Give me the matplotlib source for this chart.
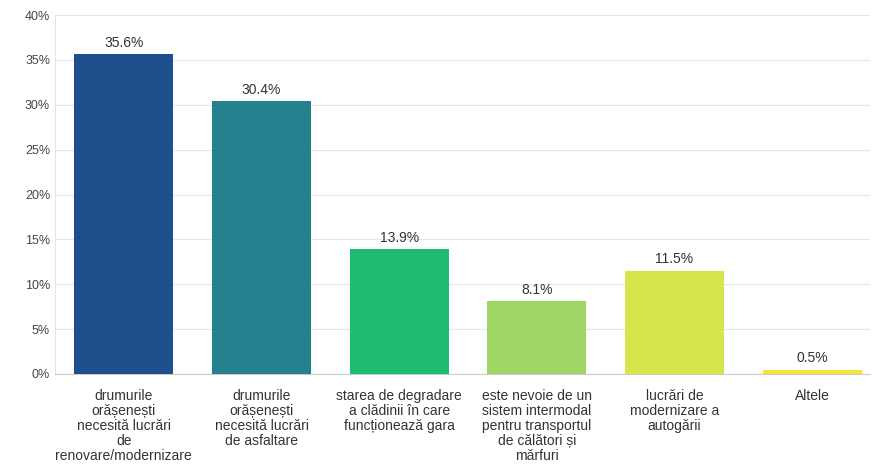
import matplotlib.pyplot as plt
import matplotlib as mpl

mpl.rcParams['font.family'] = ['Liberation Sans', 'DejaVu Sans']

categories = [
    "drumurile\norășenești\nnecesită lucrări\nde\nrenovare/modernizare",
    "drumurile\norășenești\nnecesită lucrări\nde asfaltare",
    "starea de degradare\na clădinii în care\nfuncționează gara",
    "este nevoie de un\nsistem intermodal\npentru transportul\nde călători și\nmărfuri",
    "lucrări de\nmodernizare a\nautogării",
    "Altele",
]
values = [35.6, 30.4, 13.9, 8.1, 11.5, 0.5]
colors = ['#1f4e8c', '#23818e', '#1fbb6e', '#9fd664', '#d4e64a', '#f5e33a']
yticks = [0, 5, 10, 15, 20, 25, 30, 35, 40]

fig = plt.figure(figsize=(8.72, 4.68), dpi=100)
ax = fig.add_axes([55/872, 1-374/468, (870-55)/872, (374-15)/468])

x = range(len(values))
bars = ax.bar(x, values, width=0.72, color=colors, zorder=3)
for xi, v in zip(x, values):
    ax.text(xi, v + 0.5, f"{v:.1f}%", ha='center', va='bottom', fontsize=10, color='#333333')

ax.set_xlim(-0.5, 5.42)
ax.set_ylim(0, 40)
ax.set_yticks(yticks)
ax.set_yticklabels([f"{t}%" for t in yticks], fontsize=9, color='#444444')
ax.set_xticks(list(x))
ax.set_xticklabels(categories, fontsize=10, color='#333333', linespacing=1.08)
ax.tick_params(axis='both', length=0)
ax.tick_params(axis='x', pad=11)
ax.grid(axis='y', color='#e6e6e6', linewidth=0.8, zorder=0)
for s in ['top', 'right']:
    ax.spines[s].set_visible(False)
ax.spines['left'].set_color('#e6e6e6')
ax.spines['bottom'].set_color('#cccccc')

fig.savefig('out.png', dpi=100)
